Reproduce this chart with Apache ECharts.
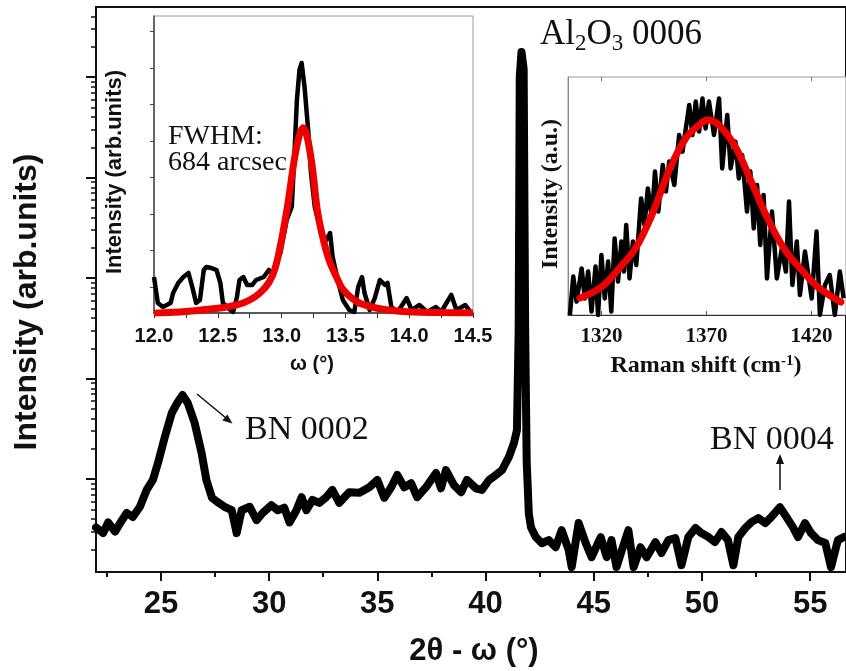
<!DOCTYPE html>
<html><head><meta charset="utf-8">
<script src="https://cdn.jsdelivr.net/npm/echarts@6/dist/echarts.min.js"></script>
<style>html,body{margin:0;padding:0;background:#fff}#c{width:846px;height:671px}</style>
</head><body><div id="c"></div>
<script>
// ---- main XRD 2theta-omega scan (log intensity) ----
const xrdAngle = [22.0,22.33,22.56,22.88,23.2,23.42,23.7,24.03,24.34,24.63,24.86,25.18,25.5,25.78,26.0,26.24,26.56,26.88,27.1,27.36,27.62,27.94,28.27,28.5,28.73,29.1,29.42,29.7,30.1,30.4,30.7,30.94,31.26,31.5,31.72,32.0,32.32,32.64,32.92,33.24,33.7,34.17,34.63,35.0,35.32,35.64,35.92,36.24,36.56,36.84,37.25,37.71,37.94,38.17,38.54,38.87,39.14,39.55,39.83,40.16,40.48,40.76,41.08,41.31,41.45,41.53,41.58,41.66,41.76,41.83,41.9,42.0,42.1,42.32,42.6,42.92,43.24,43.52,43.84,43.98,44.3,44.63,44.9,45.32,45.6,45.82,46.05,46.3,46.6,46.84,47.16,47.44,47.85,48.13,48.45,48.77,49.05,49.37,49.7,49.97,50.3,50.6,50.9,51.2,51.45,51.68,52.0,52.28,52.6,52.92,53.2,53.6,53.9,54.2,54.44,54.76,55.04,55.36,55.7,55.96,56.28,56.56];
const xrdIntensity = [33,29,37,30,39,46,42,53,78,98,144,262,454,584,685,571,361,181,98,65,59,53,49,29,49,53,39,46,55,49,52,37,49,66,49,62,58,66,78,58,74,73,83,98,65,83,110,83,91,66,83,115,81,123,87,74,98,81,78,98,110,123,166,228,307,3000,1000000,1770000,1200000,3000,150,45,33,26.5,23,24.7,21,31,19.7,13.3,36.5,23,16.7,26.5,16.7,24.7,13.3,19.7,31,13.3,21,16.7,23.6,18.4,24.7,25.9,13.9,26.5,32.6,29,26.5,23.6,29.7,24.7,13.9,26.5,32.6,37.3,40.9,36.5,41.9,52.6,41.9,33.3,26.5,36.5,29,24.7,23.1,13.3,24.7,26.5];
const xrdMajorTicks = [25,30,35,40,45,50,55];
const xrdMinorTicks = [22.5,27.5,32.5,37.5,42.5,47.5,52.5];
const logMajorTicks = [100,1000,10000,100000,1000000];
const logMinorTicks = [20,30,40,50,60,70,80,90,200,300,400,500,600,700,800,900,2000,3000,4000,5000,6000,7000,8000,9000,20000,30000,40000,50000,60000,70000,80000,90000,200000,300000,400000,500000,600000,700000,800000,900000,2000000,3000000,4000000];

// ---- inset 1: rocking curve ----
const rcOmega = [12.0,12.03,12.07,12.13,12.15,12.19,12.23,12.27,12.3,12.33,12.36,12.39,12.41,12.45,12.49,12.52,12.54,12.6,12.62,12.65,12.67,12.7,12.73,12.77,12.8,12.86,12.9,12.93,12.96,12.99,13.04,13.08,13.1,13.12,13.14,13.157,13.18,13.21,13.23,13.26,13.31,13.35,13.38,13.4,13.44,13.48,13.53,13.57,13.6,13.63,13.65,13.69,13.73,13.77,13.81,13.83,13.86,13.91,13.98,14.02,14.08,14.14,14.21,14.25,14.33,14.37,14.44,14.48];
const rcIntensity = [637,281,226,281,418,555,637,692,500,281,322,733,774,760,733,555,281,185,158,363,596,637,528,528,596,637,733,680,850,966,1418,1600,2300,3062,3473,3569,3240,2610,2062,1596,1240,1144,1240,911,596,322,185,158,500,637,418,185,349,596,528,555,226,158,349,185,254,158,226,158,391,185,254,158];
const rcFitOmega = [12.0,12.25,12.5,12.65,12.75,12.83,12.9,12.95,13.0,13.05,13.1,13.14,13.17,13.2,13.24,13.28,13.32,13.37,13.43,13.48,13.59,13.74,13.95,14.2,14.5];
const rcFitIntensity = [140,165,208,254,322,418,560,760,1150,1650,2250,2580,2680,2560,2150,1550,1200,880,637,470,300,213,165,150,144];
const rcLabelTicks = [12.0,12.5,13.0,13.5,14.0,14.5];
const rcAllTicks = [12.0,12.25,12.5,12.75,13.0,13.25,13.5,13.75,14.0,14.25,14.5];
const rcYTicks = [500,1000,1500,2000,2500,3000,3500,4000];

// ---- inset 2: Raman ----
const ramanShift = [1305.0,1306.6,1308.2,1310.6,1312.1,1313.7,1315.3,1317.2,1318.4,1320.0,1321.6,1323.2,1324.7,1326.3,1327.9,1329.5,1330.7,1331.8,1333.4,1335.0,1336.6,1338.9,1340.5,1342.1,1344.0,1345.5,1347.1,1349.2,1350.7,1352.3,1354.7,1357.0,1358.6,1361.8,1363.3,1364.9,1366.5,1368.1,1369.6,1371.2,1373.6,1376.0,1377.5,1379.9,1381.5,1383.8,1385.4,1387.0,1389.3,1390.9,1392.5,1394.1,1395.6,1397.2,1398.8,1401.2,1403.5,1405.9,1407.8,1409.3,1410.9,1413.0,1414.5,1416.9,1420.1,1422.4,1424.0,1426.4,1428.7,1431.1,1433.5,1435.3];
const ramanIntensity = [0,192,67,233,83,217,17,242,0,300,83,267,17,383,167,367,217,450,183,367,250,583,450,633,483,717,517,750,617,767,650,900,817,1050,900,1067,917,1083,933,1067,900,1083,733,1000,733,867,683,800,517,717,433,650,350,600,183,517,183,333,217,567,150,367,100,317,83,417,0,150,200,0,217,83];
const ramanFitShift = [1309.8,1320,1328.6,1336.6,1344.4,1352.3,1360.2,1366.5,1370.4,1375.9,1383.8,1391.6,1399.5,1407.4,1415.3,1423,1434];
const ramanFitIntensity = [85,140,235,340,510,725,885,950,975,950,840,660,475,325,225,140,65];
const ramanTicks = [1320,1370,1420];

const zip = (a, b) => a.map((v, i) => [v, b[i]]);
const SANS = '"Liberation Sans", Arial, sans-serif';
const SERIF = '"Liberation Serif", "Times New Roman", serif';
const mainYMin = 11.9, mainYMax = 4.97e6;

const chart = echarts.init(document.getElementById('c'), null, {renderer: 'canvas'});
const noSplit = {show: false};
chart.setOption({
  animation: false,
  backgroundColor: '#fff',
  grid: [
    {left: 96, top: 7, width: 752, height: 565, show: true, borderColor: '#111', borderWidth: 2, backgroundColor: 'transparent'},
    {left: 154, top: 16, width: 319, height: 297, show: true, borderColor: '#9a9a9a', borderWidth: 1, backgroundColor: '#fff'},
    {left: 568, top: 77, width: 280, height: 238, show: true, borderColor: '#9a9a9a', borderWidth: 1, backgroundColor: '#fff'}
  ],
  xAxis: [
    {gridIndex: 0, type: 'value', min: 22, max: 22 + 752 / 21.7, position: 'bottom',
     axisLine: {lineStyle: {color: '#111', width: 2}},
     axisTick: {customValues: xrdMajorTicks, length: 9, lineStyle: {color: '#111', width: 2}},
     axisLabel: {customValues: xrdMajorTicks, fontFamily: SANS, fontWeight: 'bold', fontSize: 31, color: '#111', margin: 17},
     splitLine: noSplit},
    {gridIndex: 0, type: 'value', min: 22, max: 22 + 752 / 21.7, position: 'bottom',
     axisLine: {show: false},
     axisTick: {customValues: xrdMinorTicks, length: 5, lineStyle: {color: '#111', width: 2}},
     axisLabel: {show: false}, splitLine: noSplit},
    {gridIndex: 1, type: 'value', min: 12.0, max: 14.5, position: 'bottom',
     axisLine: {lineStyle: {color: '#333', width: 1.5}},
     axisTick: {customValues: rcAllTicks, length: 5, lineStyle: {color: '#333', width: 1}},
     axisLabel: {customValues: rcLabelTicks, formatter: v => Number(v).toFixed(1), fontFamily: SANS, fontWeight: 'bold', fontSize: 20, color: '#111', margin: 13},
     splitLine: noSplit},
    {gridIndex: 2, type: 'value', min: 1304.1, max: 1304.1 + 280 / 2.116, position: 'bottom',
     axisLine: {lineStyle: {color: '#333', width: 1}},
     axisTick: {customValues: ramanTicks, inside: true, length: 4, lineStyle: {color: '#555'}},
     axisLabel: {customValues: ramanTicks, formatter: v => String(Math.round(v)), fontFamily: SERIF, fontWeight: 'bold', fontSize: 21, color: '#111', margin: 11},
     splitLine: noSplit},
    {gridIndex: 2, type: 'value', min: 1304.1, max: 1304.1 + 280 / 2.116, position: 'top',
     axisLine: {show: false},
     axisTick: {customValues: ramanTicks, inside: true, length: 4, lineStyle: {color: '#777'}},
     axisLabel: {show: false}, splitLine: noSplit}
  ],
  yAxis: [
    {gridIndex: 0, type: 'log', position: 'left', min: mainYMin, max: mainYMax, logBase: 10,
     axisLine: {show: true, lineStyle: {color: '#111', width: 2}},
     axisTick: {show: false}, axisLabel: {show: false}, splitLine: noSplit, minorTick: {show: false}},
    {gridIndex: 0, type: 'value', position: 'left', offset: 0, min: Math.log10(mainYMin), max: Math.log10(mainYMax),
     axisLine: {show: false},
     axisTick: {show: true, customValues: logMajorTicks.map(Math.log10), length: 10, lineStyle: {color: '#111', width: 2}},
     axisLabel: {show: false}, splitLine: noSplit},
    {gridIndex: 0, type: 'value', position: 'left', offset: 0, min: Math.log10(mainYMin), max: Math.log10(mainYMax),
     axisLine: {show: false},
     axisTick: {show: true, customValues: logMinorTicks.map(Math.log10), length: 5, lineStyle: {color: '#111', width: 1.5}},
     axisLabel: {show: false}, splitLine: noSplit},
    {gridIndex: 1, type: 'value', position: 'left', min: 144, max: 4212,
     axisLine: {show: true, lineStyle: {color: '#444', width: 1.5}},
     axisTick: {show: true, customValues: rcYTicks, length: 4, lineStyle: {color: '#444'}},
     axisLabel: {show: false}, splitLine: noSplit},
    {gridIndex: 2, type: 'value', position: 'left', min: 0, max: 1190,
     axisLine: {show: true, lineStyle: {color: '#888', width: 1}},
     axisTick: {show: false}, axisLabel: {show: false}, splitLine: noSplit}
  ],
  series: [
    {type: 'line', xAxisIndex: 0, yAxisIndex: 0, data: zip(xrdAngle, xrdIntensity), showSymbol: false,
     lineStyle: {color: '#000', width: 8, join: 'round', cap: 'round'}},
    {type: 'line', xAxisIndex: 2, yAxisIndex: 3, data: zip(rcOmega, rcIntensity), showSymbol: false,
     lineStyle: {color: '#000', width: 4.5, join: 'round'}},
    {type: 'line', xAxisIndex: 2, yAxisIndex: 3, data: zip(rcFitOmega, rcFitIntensity), showSymbol: false, smooth: 0.3,
     lineStyle: {color: '#ee0000', width: 7, join: 'round'}},
    {type: 'line', xAxisIndex: 3, yAxisIndex: 4, data: zip(ramanShift, ramanIntensity), showSymbol: false,
     lineStyle: {color: '#000', width: 4.5, join: 'round'}},
    {type: 'line', xAxisIndex: 3, yAxisIndex: 4, data: zip(ramanFitShift, ramanFitIntensity), showSymbol: false, smooth: 0.4,
     lineStyle: {color: '#ee0000', width: 7, join: 'round', cap: 'round'}}
  ],
  graphic: [
    {type: 'text', x: 27, y: 302, rotation: Math.PI / 2,
     style: {text: 'Intensity (arb.units)', font: 'bold 32px ' + SANS, fill: '#111', align: 'center', verticalAlign: 'middle'}},
    {type: 'text', x: 474, y: 651,
     style: {text: '2θ - ω (°)', font: 'bold 31px ' + SANS, fill: '#111', align: 'center', verticalAlign: 'middle'}},
    {type: 'text', x: 115, y: 172, rotation: Math.PI / 2,
     style: {text: 'Intensity (arb.units)', font: 'bold 22px ' + SANS, fill: '#111', align: 'center', verticalAlign: 'middle'}},
    {type: 'text', x: 312, y: 364,
     style: {text: 'ω (°)', font: 'bold 20px ' + SANS, fill: '#111', align: 'center', verticalAlign: 'middle'}},
    {type: 'text', x: 168, y: 137,
     style: {text: 'FWHM:', font: '28px ' + SERIF, fill: '#111', align: 'left', verticalAlign: 'middle'}},
    {type: 'text', x: 168, y: 163,
     style: {text: '684 arcsec', font: '28px ' + SERIF, fill: '#111', align: 'left', verticalAlign: 'middle'}},
    {type: 'text', x: 551, y: 194, rotation: Math.PI / 2,
     style: {text: 'Intensity (a.u.)', font: 'bold 24px ' + SERIF, fill: '#111', align: 'center', verticalAlign: 'middle'}},
    {type: 'text', x: 706, y: 366,
     style: {text: 'Raman shift (cm{sup|-1})', font: 'bold 24px ' + SERIF, fill: '#111', align: 'center', verticalAlign: 'middle',
       rich: {sup: {font: 'bold 15px ' + SERIF, fill: '#111', verticalAlign: 'top', lineHeight: 15}}}},
    {type: 'text', x: 540, y: 15,
     style: {text: 'Al{s|2}O{s|3} 0006', font: '35px ' + SERIF, fill: '#111', align: 'left', verticalAlign: 'top', lineHeight: 40,
       rich: {s: {font: '23px ' + SERIF, fill: '#111', verticalAlign: 'bottom', lineHeight: 22}}}},
    {type: 'text', x: 245, y: 430,
     style: {text: 'BN 0002', font: '34px ' + SERIF, fill: '#111', align: 'left', verticalAlign: 'middle'}},
    {type: 'text', x: 710, y: 440,
     style: {text: 'BN 0004', font: '34px ' + SERIF, fill: '#111', align: 'left', verticalAlign: 'middle'}},
    {type: 'polyline', shape: {points: [[197, 394], [229, 420.5]]}, style: {stroke: '#111', lineWidth: 1.5}},
    {type: 'polygon', shape: {points: [[232.5, 423.5], [222.3, 420.6], [227.4, 414.4]]}, style: {fill: '#111'}},
    {type: 'polyline', shape: {points: [[780, 490], [780, 460]]}, style: {stroke: '#111', lineWidth: 1.5}},
    {type: 'polygon', shape: {points: [[780, 454], [776, 464], [784, 464]]}, style: {fill: '#111'}}
  ]
});
</script></body></html>
